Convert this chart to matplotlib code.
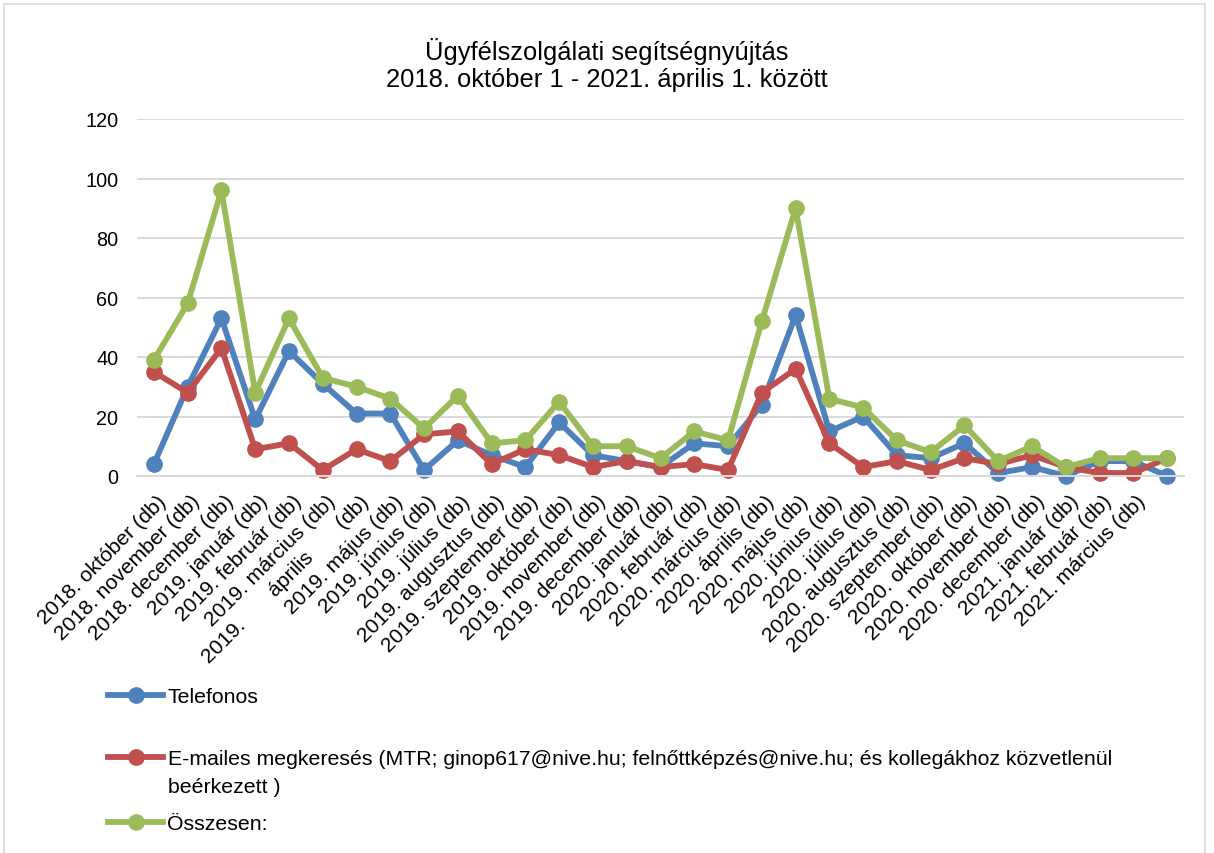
import numpy as np
import matplotlib
matplotlib.use('Agg')
import matplotlib.pyplot as plt
import matplotlib.transforms as mtransforms
from matplotlib.patches import Rectangle

plt.rcParams['font.family'] = ['Liberation Sans', 'DejaVu Sans']

# ---- DATA ----
months = [
    '2018. október (db)', '2018. november (db)', '2018. december (db)',
    '2019. január (db)', '2019. február (db)', '2019. március (db)',
    '2019.       április       (db)', '2019. május (db)', '2019. június (db)',
    '2019. július (db)', '2019. augusztus (db)', '2019. szeptember (db)',
    '2019. október (db)', '2019. november (db)', '2019. december (db)',
    '2020. január (db)', '2020. február (db)', '2020. március (db)',
    '2020. április (db)', '2020. május (db)', '2020. június (db)',
    '2020. július (db)', '2020. augusztus (db)', '2020. szeptember (db)',
    '2020. október (db)', '2020. november (db)', '2020. december (db)',
    '2021. január (db)', '2021. február (db)', '2021. március (db)',
    '',
]
telefonos = [4, 30, 53, 19, 42, 31, 21, 21, 2, 12, 7, 3, 18, 7, 5,
             3, 11, 10, 24, 54, 15, 20, 7, 6, 11, 1, 3, 0, 5, 5, 0]
emailes = [35, 28, 43, 9, 11, 2, 9, 5, 14, 15, 4, 9, 7, 3, 5,
           3, 4, 2, 28, 36, 11, 3, 5, 2, 6, 4, 7, 3, 1, 1, 6]
osszesen = [39, 58, 96, 28, 53, 33, 30, 26, 16, 27, 11, 12, 25, 10, 10,
            6, 15, 12, 52, 90, 26, 23, 12, 8, 17, 5, 10, 3, 6, 6, 6]

title = 'Ügyfélszolgálati segítségnyújtás\n2018. október 1 - 2021. április 1. között'
lbl_tel = 'Telefonos'
lbl_mail_1 = 'E-mailes megkeresés (MTR; ginop617@nive.hu; felnőttképzés@nive.hu; és kollegákhoz közvetlenül'
lbl_mail_2 = 'beérkezett )'
lbl_sum = 'Összesen:'

BLUE = '#4f81bd'
RED = '#c0504d'
GREEN = '#9bbb59'
GRID = '#d9d9d9'
W, H = 1214, 854

fig = plt.figure(figsize=(W / 100, H / 100), dpi=100)
ax = fig.add_axes([137 / W, 1 - 477 / H, 1047 / W, 357 / H])

x = np.arange(len(months))
style = dict(lw=4.2, marker='o', ms=11, clip_on=False, solid_joinstyle='round')
l_tel, = ax.plot(x, telefonos, color=BLUE, **style)
l_mail, = ax.plot(x, emailes, color=RED, **style)
l_sum, = ax.plot(x, osszesen, color=GREEN, **style)

ax.set_xlim(-0.5, len(months) - 0.5)
ax.set_ylim(0, 120)
ax.set_yticks(range(0, 121, 20))
ax.yaxis.grid(True, color=GRID, lw=1.4)
ax.set_axisbelow(True)
for s in ['top', 'right', 'left']:
    ax.spines[s].set_visible(False)
ax.spines['bottom'].set_color(GRID)
ax.spines['bottom'].set_linewidth(1.4)
ax.tick_params(axis='y', length=0, pad=13.5, labelsize=14.3, labelcolor='black')
ax.tick_params(axis='x', length=0, pad=11, labelsize=15.2, labelcolor='black')

ax.set_xticks(x)
ax.set_xticklabels(months, rotation=45, ha='right', rotation_mode='anchor')
shift = mtransforms.ScaledTranslation(3 / 100, 0, fig.dpi_scale_trans)
for lab in ax.get_xticklabels():
    lab.set_transform(lab.get_transform() + shift)

fig.text(0.5, 1 - 65 / H, title, ha='center', va='center', fontsize=18.4,
         linespacing=1.2)

# legend entries, one per row like the original
leg_kw = dict(loc='center left', frameon=False, fontsize=15.3, borderpad=0,
              borderaxespad=0, handlelength=2.6, handletextpad=0.2)
fig.legend([l_tel], [lbl_tel], bbox_to_anchor=(108 / W, 1 - 698 / H), **leg_kw)
fig.legend([l_mail], [lbl_mail_1], bbox_to_anchor=(108 / W, 1 - 760 / H), **leg_kw)
fig.text(168 / W, 1 - 788 / H, lbl_mail_2, ha='left', va='center', fontsize=15.3)
fig.legend([l_sum], [lbl_sum], bbox_to_anchor=(108 / W, 1 - 825 / H), **leg_kw)

fig.patches.append(Rectangle((4 / W, -0.05), 1201 / W, 1.05 - 5 / H,
                             transform=fig.transFigure, fill=False,
                             edgecolor=GRID, lw=1.2))

fig.savefig('out.png', dpi=100)
